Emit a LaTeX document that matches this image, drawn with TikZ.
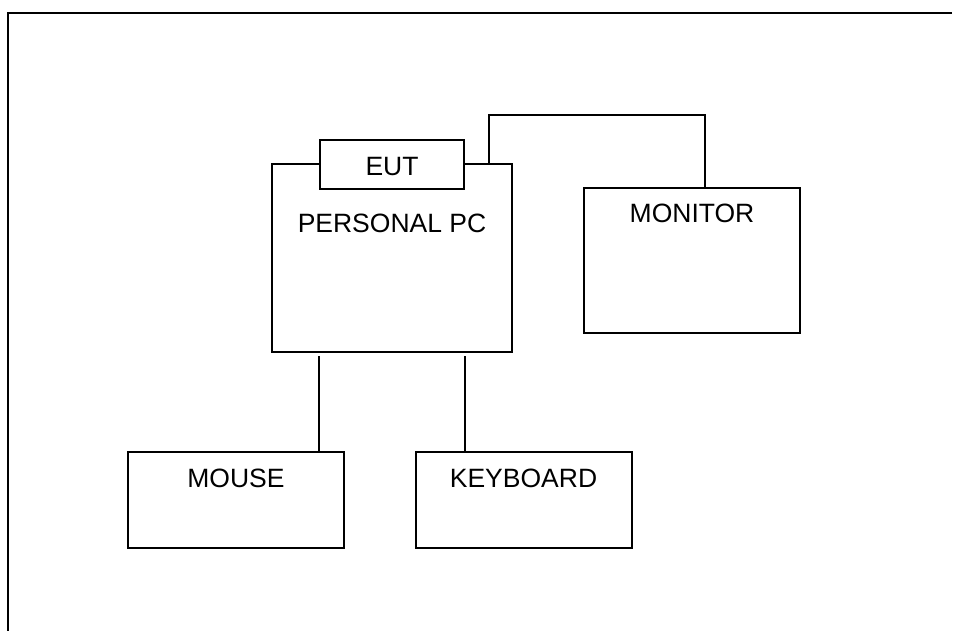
\documentclass[tikz,border=0pt]{standalone}
\usepackage{fontspec}
\setmainfont{Liberation Sans}
\usetikzlibrary{positioning}

\begin{document}
\begin{tikzpicture}[
            x=1pt, y=-1pt,
            box/.style={rectangle, draw, line width=2pt, fill=white, inner sep=0pt},
            lbl/.style={inner sep=0pt, font=\fontsize{26.5}{30}\selectfont},
            wire/.style={line width=2pt},
            frame/.style={line width=2.8pt}
            ]
            \useasboundingbox (0,0) rectangle (953,630);

            % Outer frame (top and left only)
            \coordinate (frametl) at (8,13);
            \draw[frame] (952,13) -- (frametl) -- (8,632);

            % Main unit
            \node[box, minimum width=240pt, minimum height=188pt, label={[lbl, anchor=north, yshift=-51pt]north:PERSONAL PC}] (pc) at (392,258) {};
            \node[box, minimum width=144pt, minimum height=49pt, label={[lbl, anchor=north, yshift=-18pt]north:EUT}] (eut) at (392,164.5) {};

            % Peripherals
            \node[box, minimum width=216pt, minimum height=145pt, label={[lbl, anchor=north, yshift=-17pt]north:MONITOR}] (monitor) at (692,260.5) {};
            \node[box, minimum width=216pt, minimum height=96pt, label={[lbl, anchor=north, yshift=-18pt]north:MOUSE}] (mouse) at (236,500) {};
            \node[box, minimum width=216pt, minimum height=96pt, label={[lbl, anchor=north, yshift=-18pt]north:KEYBOARD}] (keyboard) at (523.5,500) {};

            % Cables
            \draw[wire] ([xshift=-24pt]pc.north east) -- ++(0,-48) -| ([xshift=13pt]monitor.north);
            \draw[wire] ([xshift=48pt,yshift=-3pt]pc.south west) -- ([xshift=48pt]pc.south west |- mouse.north);
            \draw[wire] ([xshift=-48pt,yshift=-3pt]pc.south east) -- ([xshift=-48pt]pc.south east |- keyboard.north);

        \end{tikzpicture}
\end{document}
